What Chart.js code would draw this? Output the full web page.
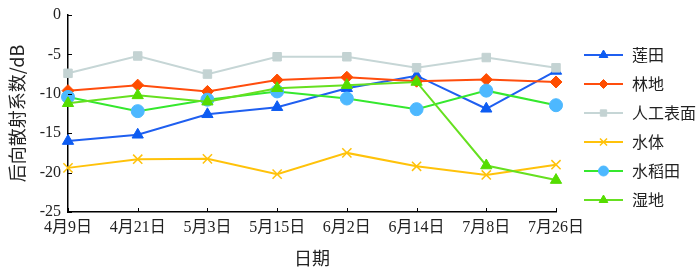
<!DOCTYPE html>
<html>
<head>
<meta charset="utf-8">
<script src="https://cdn.jsdelivr.net/npm/chart.js@4"></script>
<style>
  html, body { margin: 0; padding: 0; background: #fff; }
  #wrap { width: 700px; height: 273px; position: relative; }
</style>
</head>
<body>
<div id="wrap"><canvas id="lineChart"></canvas></div>
<script>
// categories and series
const dates = ["4月9日", "4月21日", "5月3日", "5月15日", "6月2日", "6月14日", "7月8日", "7月26日"];
const seriesNames = ["莲田", "林地", "人工表面", "水体", "水稻田", "湿地"];

const lotus   = [-16.0, -15.2, -12.6, -11.7, -9.3, -7.7, -11.9, -7.1];
const forest  = [-9.6, -8.9, -9.7, -8.25, -7.9, -8.4, -8.2, -8.5];
const urban   = [-7.4, -5.2, -7.5, -5.3, -5.3, -6.7, -5.4, -6.7];
const water   = [-19.4, -18.3, -18.25, -20.2, -17.5, -19.2, -20.3, -19.0];
const paddy   = [-10.4, -12.2, -10.75, -9.7, -10.6, -11.95, -9.6, -11.45];
const wetland = [-11.2, -10.2, -11.0, -9.3, -8.9, -8.5, -19.1, -20.95];

const yTicks = [0, -5, -10, -15, -20, -25];

const SERIF = "'Liberation Serif', 'Noto Sans CJK SC', serif";
const CJK = "'Noto Sans CJK SC', 'Liberation Serif', sans-serif";

function makeSet(label, data, line, marker, style, r) {
  return {
    label: label,
    data: data,
    borderColor: line,
    backgroundColor: marker,
    pointBackgroundColor: marker,
    pointBorderColor: marker,
    pointStyle: style,
    pointRadius: r,
    pointBorderWidth: style === "crossRot" ? 1.5 : 1,
    borderWidth: 2,
    tension: 0,
    fill: false,
  };
}

const datasets = [
  makeSet(seriesNames[0], lotus, "#1f5ff0", "#0d5cf2", "triangle", 6.5),
  makeSet(seriesNames[1], forest, "#ff4d0d", "#ff4d00", "rectRot", 6),
  makeSet(seriesNames[2], urban, "#c6d6d6", "#c4d3d3", "rect", 6),
  makeSet(seriesNames[3], water, "#ffc20a", "#ffc20a", "crossRot", 6.5),
  makeSet(seriesNames[4], paddy, "#35e82e", "#4db8ff", "circle", 6.5),
  makeSet(seriesNames[5], wetland, "#66e020", "#55dd00", "triangle", 6.5),
];
// later series drawn on top
datasets.forEach((d, i) => { d.order = datasets.length - i; });

// small tick marks pointing into the plot
const innerTicks = {
  id: "innerTicks",
  afterDraw(chart) {
    const { ctx, chartArea, scales } = chart;
    ctx.save();
    ctx.strokeStyle = "#000";
    ctx.lineWidth = 1;
    ctx.beginPath();
    dates.forEach((d, i) => {
      const x = Math.round(scales.x.getPixelForValue(i)) + 0.5;
      ctx.moveTo(x, chartArea.bottom);
      ctx.lineTo(x, chartArea.bottom - 4);
    });
    yTicks.forEach(v => {
      const y = Math.round(scales.y.getPixelForValue(v)) + 0.5;
      ctx.moveTo(chartArea.left, y);
      ctx.lineTo(chartArea.left + 4, y);
    });
    ctx.stroke();
    ctx.restore();
  }
};

// legend on the right: line with the marker in the middle
const sideLegend = {
  id: "sideLegend",
  afterDraw(chart) {
    const ctx = chart.ctx;
    ctx.save();
    chart.data.datasets.forEach((ds, i) => {
      const y = 55 + i * 29;
      ctx.strokeStyle = ds.borderColor;
      ctx.lineWidth = 2;
      ctx.beginPath();
      ctx.moveTo(584, y);
      ctx.lineTo(623, y);
      ctx.stroke();
      ctx.fillStyle = ds.pointBackgroundColor;
      ctx.strokeStyle = ds.pointBorderColor;
      ctx.lineWidth = ds.pointBorderWidth;
      Chart.helpers.drawPoint(ctx, {
        pointStyle: ds.pointStyle,
        radius: ds.pointRadius - 1.5,
        rotation: 0,
        borderWidth: ds.pointBorderWidth,
      }, 603.5, y);
      ctx.fillStyle = "#222";
      ctx.font = "16px " + CJK;
      ctx.textBaseline = "middle";
      ctx.textAlign = "left";
      ctx.fillText(ds.label, 632, y);
    });
    ctx.restore();
  }
};

new Chart(document.getElementById("lineChart").getContext("2d"), {
  type: "line",
  data: { labels: dates, datasets: datasets },
  plugins: [innerTicks, sideLegend],
  options: {
    responsive: true,
    maintainAspectRatio: false,
    animation: false,
    layout: { padding: { top: 0, right: 144, bottom: 0, left: 0 } },
    plugins: {
      legend: { display: false },
      tooltip: { enabled: false },
    },
    scales: {
      x: {
        type: "category",
        offset: false,
        grid: { display: false, drawTicks: false },
        border: { display: true, color: "#000", width: 1.5 },
        ticks: {
          color: "#222",
          padding: 6,
          maxRotation: 0,
          autoSkip: false,
          font: { family: SERIF, size: 16 },
        },
        title: {
          display: true,
          text: "日期",
          color: "#222",
          padding: { top: 8, bottom: 4 },
          font: { family: CJK, size: 18 },
        },
        afterFit(s) { s.height = 61; },
      },
      y: {
        min: -25,
        max: 0,
        grid: { display: false, drawTicks: false },
        border: { display: true, color: "#000", width: 1.5 },
        afterBuildTicks(s) { s.ticks = yTicks.map(v => ({ value: v })); },
        ticks: {
          color: "#222",
          padding: 7,
          font: { family: SERIF, size: 16, lineHeight: 1.0 },
        },
        title: {
          display: true,
          text: "后向散射系数/dB",
          color: "#222",
          padding: { top: 6, bottom: 2 },
          font: { family: CJK, size: 18 },
        },
        afterFit(s) { s.width = 68; },
      },
    },
  },
});
</script>
</body>
</html>
